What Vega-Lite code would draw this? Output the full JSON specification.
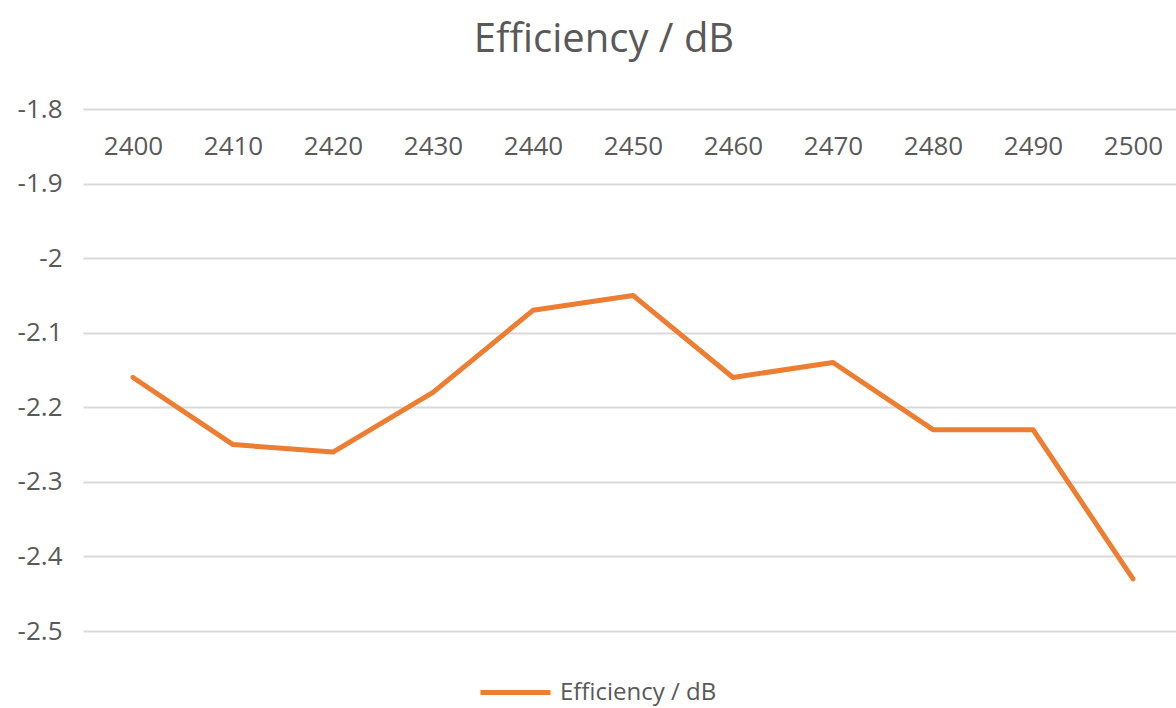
{
  "$schema": "https://vega.github.io/schema/vega-lite/v6.json",
  "autosize": "none",
  "width": 1100,
  "height": 522,
  "padding": {"left": 83, "top": 109, "right": 0, "bottom": 77},
  "background": "white",
  "title": {
    "text": "Efficiency / dB",
    "font": "Open Sans",
    "fontSize": 40,
    "fontWeight": "normal",
    "color": "#595959",
    "anchor": "middle",
    "dx": -29,
    "offset": 36
  },
  "config": {
    "view": {"stroke": null},
    "font": "Open Sans"
  },
  "data": {
    "values": [
      {"freq": 2400, "eff": -2.16, "series": "Efficiency / dB"},
      {"freq": 2410, "eff": -2.25, "series": "Efficiency / dB"},
      {"freq": 2420, "eff": -2.26, "series": "Efficiency / dB"},
      {"freq": 2430, "eff": -2.18, "series": "Efficiency / dB"},
      {"freq": 2440, "eff": -2.07, "series": "Efficiency / dB"},
      {"freq": 2450, "eff": -2.05, "series": "Efficiency / dB"},
      {"freq": 2460, "eff": -2.16, "series": "Efficiency / dB"},
      {"freq": 2470, "eff": -2.14, "series": "Efficiency / dB"},
      {"freq": 2480, "eff": -2.23, "series": "Efficiency / dB"},
      {"freq": 2490, "eff": -2.23, "series": "Efficiency / dB"},
      {"freq": 2500, "eff": -2.43, "series": "Efficiency / dB"}
    ]
  },
  "mark": {"type": "line", "strokeWidth": 5, "strokeCap": "round", "strokeJoin": "round"},
  "encoding": {
    "x": {
      "field": "freq",
      "type": "ordinal",
      "scale": {"type": "point", "padding": 0.5},
      "axis": {
        "orient": "top",
        "title": null,
        "domain": false,
        "ticks": false,
        "tickSize": 0,
        "grid": false,
        "labelPadding": -37,
        "labelBaseline": "middle",
        "labelAngle": 0,
        "labelFont": "Open Sans",
        "labelFontSize": 26,
        "labelColor": "#595959"
      }
    },
    "y": {
      "field": "eff",
      "type": "quantitative",
      "scale": {"domain": [-2.5, -1.8], "nice": false, "zero": false},
      "axis": {
        "title": null,
        "values": [-2.5, -2.4, -2.3, -2.2, -2.1, -2.0, -1.9, -1.8],
        "labelExpr": "'' + round(datum.value * 10) / 10",
        "domain": false,
        "ticks": false,
        "tickSize": 0,
        "labelPadding": 21,
        "labelFont": "Open Sans",
        "labelFontSize": 26,
        "labelColor": "#595959",
        "grid": true,
        "gridColor": "#d9d9d9",
        "gridWidth": 2
      }
    },
    "color": {
      "field": "series",
      "type": "nominal",
      "scale": {"range": ["#ED7D31"]},
      "legend": {
        "title": null,
        "orient": "none",
        "legendX": 395,
        "legendY": 546,
        "symbolType": "stroke",
        "symbolSize": 4900,
        "symbolStrokeWidth": 5,
        "labelOffset": 7,
        "labelLimit": 500,
        "labelFont": "Open Sans",
        "labelFontSize": 24,
        "labelColor": "#595959"
      }
    }
  }
}
